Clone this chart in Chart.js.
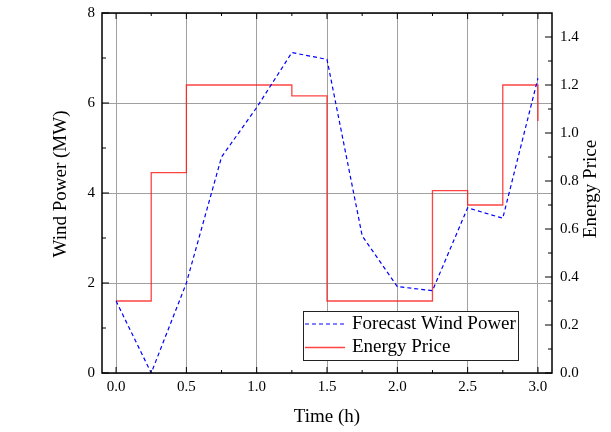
<!DOCTYPE html>
<html>
<head>
<meta charset="utf-8">
<script src="https://cdn.jsdelivr.net/npm/chart.js@4"></script>
<style>
  html, body { margin: 0; padding: 0; background: #fff; }
</style>
</head>
<body>
<canvas id="chart" width="611" height="432"></canvas>
<script>
// data
const times = [0, 0.25, 0.5, 0.75, 1.0, 1.25, 1.5, 1.75, 2.0, 2.25, 2.5, 2.75, 3.0];
const windPower = [1.6, 0, 2.0, 4.8, 5.9, 7.12, 6.97, 3.05, 1.92, 1.83, 3.67, 3.44, 6.55];
const energyPrice = [0.3, 0.835, 1.2, 1.2, 1.2, 1.155, 0.3, 0.3, 0.3, 0.76, 0.7, 1.2, 1.05];

const xTicks = [0, 0.5, 1.0, 1.5, 2.0, 2.5, 3.0];
const xMinor = [0.25, 0.75, 1.25, 1.75, 2.25, 2.75];
const powerTicks = [0, 2, 4, 6, 8];
const powerMinor = [1, 3, 5, 7];
const priceTicks = [0, 0.2, 0.4, 0.6, 0.8, 1.0, 1.2, 1.4];
const priceMinor = [0.1, 0.3, 0.5, 0.7, 0.9, 1.1, 1.3];

const FONT = '"Liberation Serif", "Times New Roman", serif';
const BLUE = '#0000ff';
const RED = 'rgba(255,20,20,0.8)';

// frame, inward ticks, axis titles and legend box
const decorations = {
  id: 'decorations',
  afterDraw(chart) {
    const ctx = chart.ctx;
    const { left, right, top, bottom } = chart.chartArea;
    const sx = chart.scales.x, sy = chart.scales.y, sp = chart.scales.price;
    ctx.save();

    ctx.strokeStyle = '#000';
    ctx.lineWidth = 1;
    ctx.beginPath();
    const tick = (x1, y1, x2, y2) => { ctx.moveTo(x1, y1); ctx.lineTo(x2, y2); };
    xTicks.forEach(v => { const p = sx.getPixelForValue(v); tick(p, bottom, p, bottom - 6); tick(p, top, p, top + 6); });
    xMinor.forEach(v => { const p = sx.getPixelForValue(v); tick(p, bottom, p, bottom - 3); tick(p, top, p, top + 3); });
    powerTicks.forEach(v => { const p = sy.getPixelForValue(v); tick(left, p, left + 7, p); });
    powerMinor.forEach(v => { const p = sy.getPixelForValue(v); tick(left, p, left + 4, p); });
    priceTicks.forEach(v => { const p = sp.getPixelForValue(v); tick(right, p, right - 7, p); });
    priceMinor.forEach(v => { const p = sp.getPixelForValue(v); tick(right, p, right - 4, p); });
    ctx.stroke();

    ctx.lineWidth = 1.5;
    ctx.strokeRect(left, top, right - left, bottom - top);

    // axis titles
    ctx.fillStyle = '#000';
    ctx.font = '19px ' + FONT;
    ctx.textAlign = 'center';
    ctx.textBaseline = 'middle';
    ctx.fillText('Time (h)', (left + right) / 2, 417);
    ctx.save();
    ctx.translate(61, 184);
    ctx.rotate(-Math.PI / 2);
    ctx.fillText('Wind Power (MW)', 0, 0);
    ctx.restore();
    ctx.save();
    ctx.translate(591, 189);
    ctx.rotate(-Math.PI / 2);
    ctx.fillText('Energy Price', 0, 0);
    ctx.restore();

    // legend
    const bx = 303, by = 311, bw = 215, bh = 49;
    ctx.fillStyle = '#fff';
    ctx.fillRect(bx, by, bw, bh);
    ctx.lineWidth = 1;
    ctx.strokeStyle = '#222';
    ctx.strokeRect(bx + 0.5, by + 0.5, bw, bh);
    const rows = [324, 347.5];
    chart.data.datasets.forEach((ds, i) => {
      const y = rows[i];
      ctx.beginPath();
      ctx.strokeStyle = ds.borderColor;
      ctx.lineWidth = ds.borderWidth;
      ctx.setLineDash(ds.borderDash || []);
      ctx.moveTo(305, y);
      ctx.lineTo(345, y);
      ctx.stroke();
      ctx.setLineDash([]);
      ctx.fillStyle = '#000';
      ctx.textAlign = 'left';
      ctx.fillText(ds.label, 352, y);
    });
    ctx.restore();
  }
};

const noPad = s => { s.paddingTop = 0; s.paddingBottom = 0; s.paddingLeft = 0; s.paddingRight = 0; };

new Chart(document.getElementById('chart'), {
  type: 'line',
  data: {
    labels: times,
    datasets: [
      {
        label: 'Forecast Wind Power',
        data: times.map((t, i) => ({ x: t, y: windPower[i] })),
        yAxisID: 'y',
        borderColor: BLUE,
        borderWidth: 1.2,
        borderDash: [4, 3],
        pointRadius: 0,
        tension: 0,
        fill: false
      },
      {
        label: 'Energy Price',
        data: times.map((t, i) => ({ x: t, y: energyPrice[i] })),
        yAxisID: 'price',
        borderColor: RED,
        borderWidth: 1.3,
        stepped: 'before',
        pointRadius: 0,
        fill: false
      }
    ]
  },
  options: {
    responsive: false,
    animation: false,
    layout: { padding: { top: 13, left: 0, right: 0, bottom: 0 } },
    plugins: { legend: { display: false }, tooltip: { enabled: false } },
    scales: {
      x: {
        type: 'linear',
        min: -0.1,
        max: 3.1,
        afterBuildTicks: s => { s.ticks = xTicks.map(v => ({ value: v })); },
        afterFit: s => { s.height = 59; noPad(s); },
        border: { display: false },
        grid: { color: '#a0a0a0', lineWidth: 1, drawTicks: false },
        ticks: {
          padding: 5,
          color: '#000',
          font: { family: FONT, size: 15 },
          callback: v => Number(v).toFixed(1)
        }
      },
      y: {
        position: 'left',
        min: 0,
        max: 8,
        afterBuildTicks: s => { s.ticks = powerTicks.map(v => ({ value: v })); },
        afterFit: s => { s.width = 102; noPad(s); },
        border: { display: false },
        grid: { color: '#a0a0a0', lineWidth: 1, drawTicks: false },
        ticks: {
          padding: 7,
          color: '#000',
          font: { family: FONT, size: 15 },
          callback: v => String(v)
        }
      },
      price: {
        position: 'right',
        min: 0,
        max: 1.5,
        afterBuildTicks: s => { s.ticks = priceTicks.map(v => ({ value: v })); },
        afterFit: s => { s.width = 59; noPad(s); },
        border: { display: false },
        grid: { drawOnChartArea: false, drawTicks: false },
        ticks: {
          padding: 8,
          color: '#000',
          font: { family: FONT, size: 15 },
          callback: v => Number(v).toFixed(1)
        }
      }
    }
  },
  plugins: [decorations]
});
</script>
</body>
</html>
